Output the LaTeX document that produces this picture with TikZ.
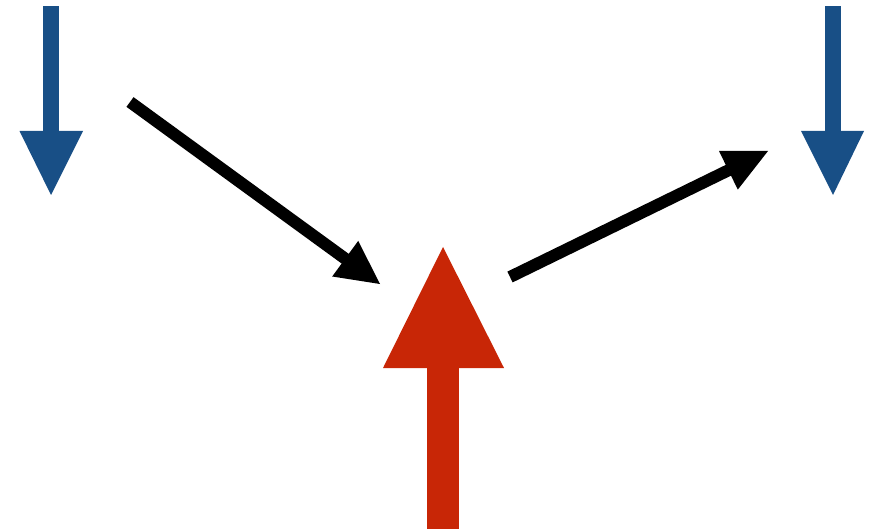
\documentclass[tikz,border=0pt]{standalone}
\usepackage{tikz}
\definecolor{flowblue}{RGB}{24,79,134}
\definecolor{flowred}{RGB}{200,38,6}
\begin{document}
\begin{tikzpicture}[x=1pt,y=-1pt,
  bluearrow/.style={fill=flowblue,draw=none},
  redarrow/.style={fill=flowred,draw=none},
  blackshaft/.style={draw=black,line width=12pt,line cap=butt},
  blackhead/.style={fill=black,draw=none}]
\useasboundingbox (0,0) rectangle (880,529);
% left blue arrow
\fill[bluearrow] (43,6) rectangle (59,132);
\fill[bluearrow] (19.5,131) -- (83,131) -- (51,195) -- cycle;
% right blue arrow
\fill[bluearrow] (825,6) rectangle (841,132);
\fill[bluearrow] (801,131) -- (864,131) -- (833,195) -- cycle;
% black arrow 1
\coordinate (a1s) at (130,102);
\coordinate (a1b) at (347,260);
\draw[blackshaft] (a1s) -- (a1b);
\fill[blackhead] (358.2,240.9) -- (380,284) -- (332.2,276.5) -- cycle;
% black arrow 2
\coordinate (a2s) at (510,277);
\coordinate (a2b) at (730,169.5);
\draw[blackshaft] (a2s) -- (a2b);
\fill[blackhead] (719,151) -- (768,151) -- (737.8,189.6) -- cycle;
% red arrow
\fill[redarrow] (427,367) rectangle (459,529);
\fill[redarrow] (383,368) -- (504,368) -- (443,247) -- cycle;
\end{tikzpicture}
\end{document}
